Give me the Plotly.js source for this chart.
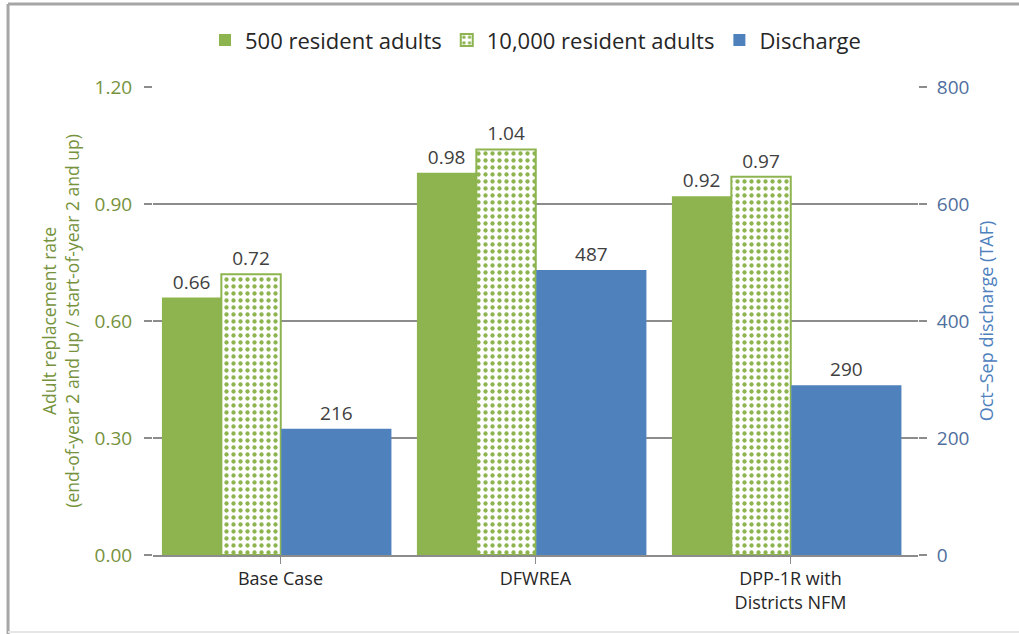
<!DOCTYPE html>
<html>
<head>
<meta charset="utf-8">
<script src="https://cdn.plot.ly/plotly-3.0.1.min.js"></script>
<style>html,body{margin:0;padding:0;background:#fff;}#chart{width:1019px;height:634px;}</style>
</head>
<body>
<div id="chart"></div>
<script>
const categories = ["Base Case", "DFWREA", "DPP-1R with<br>Districts NFM"];
const adults500 = [0.66, 0.98, 0.92];
const adults10000 = [0.72, 1.04, 0.97];
const discharge = [216, 487, 290];
const leftTicks = [0, 0.3, 0.6, 0.9, 1.2];
const leftTickText = ["0.00", "0.30", "0.60", "0.90", "1.20"];
const rightTicks = [0, 200, 400, 600, 800];

const idx = categories.map((c, i) => i);
const green = '#8DB44F';
const blue = '#4F81BD';
const labelFont = {family: 'Open Sans, sans-serif', size: 19, color: '#404040'};

const traces = [
  {type: 'bar', name: '500 resident adults', x: idx, y: adults500, yaxis: 'y',
   offset: -0.465, width: 0.233,
   marker: {color: green},
   text: adults500.map(v => v.toFixed(2)), textposition: 'outside', textfont: labelFont,
   cliponaxis: false, hoverinfo: 'y'},
  {type: 'bar', name: '10,000 resident adults', x: idx, y: adults10000, yaxis: 'y',
   offset: -0.232, width: 0.233,
   marker: {color: 'white', line: {color: green, width: 2},
            pattern: {shape: '.', fgcolor: green, bgcolor: 'white', size: 7, solidity: 0.3, fillmode: 'replace'}},
   text: adults10000.map(v => v.toFixed(2)), textposition: 'outside', textfont: labelFont,
   cliponaxis: false, hoverinfo: 'y'},
  {type: 'bar', name: 'Discharge', x: idx, y: discharge, yaxis: 'y2',
   offset: 0.003, width: 0.432,
   marker: {color: blue},
   text: discharge.map(v => String(v)), textposition: 'outside', textfont: labelFont,
   cliponaxis: false, hoverinfo: 'y'}
];

const layout = {
  width: 1019, height: 634,
  margin: {l: 153, r: 101, t: 87, b: 79, autoexpand: false},
  paper_bgcolor: '#fff', plot_bgcolor: '#fff',
  font: {family: 'Open Sans, sans-serif', color: '#404040'},
  barmode: 'overlay',
  showlegend: true,
  legend: {orientation: 'h', x: 0.5, xanchor: 'center', y: 1.1, yanchor: 'middle',
           bgcolor: 'rgba(0,0,0,0)',
           font: {size: 22, color: '#262626'}, itemwidth: 30, tracegroupgap: 0},
  xaxis: {range: [-0.5, 2.5], tickvals: idx, ticktext: categories,
          showgrid: false, zeroline: false, showline: true, linecolor: '#8c8c8c', linewidth: 1.5,
          ticks: 'outside', tickson: 'boundaries', ticklen: 7, tickcolor: '#8c8c8c', tickwidth: 1.5,
          tickfont: {size: 18, color: '#262626'}, fixedrange: true},
  yaxis: {range: [0, 1.2], tickvals: leftTicks, ticktext: leftTickText,
          showgrid: true, gridcolor: '#8c8c8c', gridwidth: 1.5, zeroline: false,
          ticks: 'outside', ticklen: 8, tickcolor: '#8c8c8c', tickwidth: 1.5,
          ticklabelstandoff: 8,
          tickfont: {size: 19, color: '#76923C'},
          title: {text: 'Adult replacement rate<br>(end-of-year 2 and up / start-of-year 2 and up)',
                  font: {size: 17.5, color: '#76923C'}, standoff: 10}},
  yaxis2: {range: [0, 800], tickvals: rightTicks, overlaying: 'y', side: 'right',
           showgrid: false, zeroline: false,
           ticks: 'outside', ticklen: 8, tickcolor: '#8c8c8c', tickwidth: 1.5,
           ticklabelstandoff: 6,
           tickfont: {size: 19, color: '#4F6F9E'},
           title: {text: 'Oct–Sep discharge (TAF)', font: {size: 18, color: blue}, standoff: 12}},
  shapes: [
    {type: 'line', xref: 'paper', yref: 'paper', x0: -0.1895, x1: -0.1895, y0: -0.17, y1: 1.1774,
     line: {color: '#a6a6a6', width: 3}},
    {type: 'line', xref: 'paper', yref: 'paper', x0: -0.1895, x1: 1.135, y0: 1.1774, y1: 1.1774,
     line: {color: '#a6a6a6', width: 3}},
    {type: 'line', xref: 'paper', yref: 'paper', x0: -0.1895, x1: 1.135, y0: -0.1645, y1: -0.1645,
     line: {color: '#e6e6e6', width: 2}}
  ]
};

Plotly.newPlot('chart', traces, layout, {displayModeBar: false, staticPlot: true});
</script>
</body>
</html>
